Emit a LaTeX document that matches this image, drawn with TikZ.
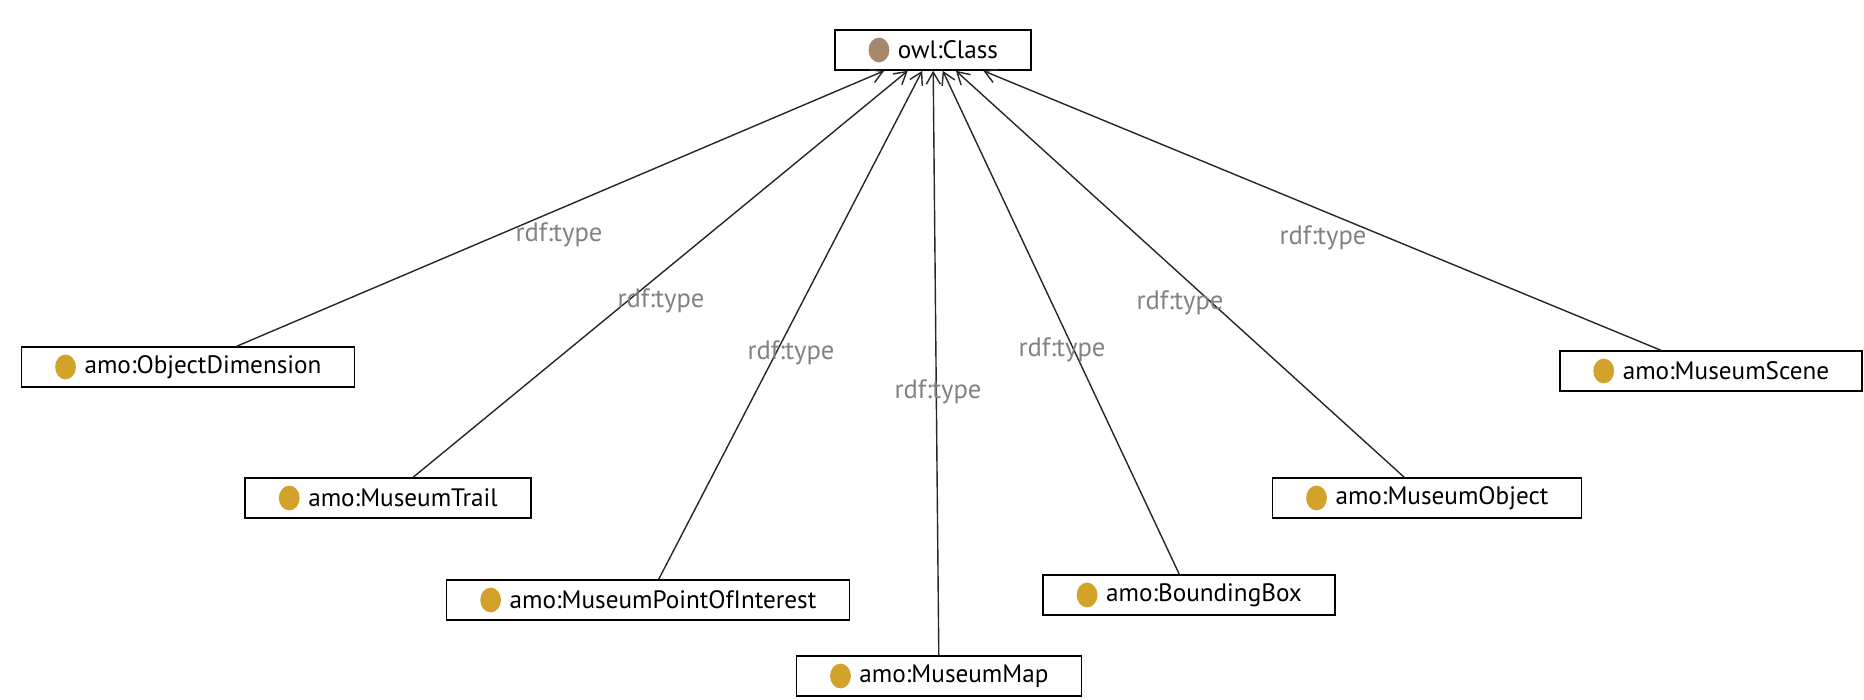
\documentclass[tikz,border=0pt]{standalone}
\usepackage{fontspec}
\setmainfont{PT Sans}
\usetikzlibrary{arrows.meta}

\definecolor{owlbrown}{RGB}{168,136,108}
\definecolor{amogold}{RGB}{210,162,42}
\definecolor{lblgray}{RGB}{130,130,130}

\tikzset{every picture/.style={line width=0.6pt}}
\tikzset{
  clsbox/.style={draw, line width=0.8pt, fill=white, minimum height=20pt,
    inner xsep=16.5pt, inner ysep=2pt, font=\fontsize{12.6}{15}\selectfont,
    execute at begin node={\hspace{15pt}},
    path picture={\fill[#1] ([xshift=22pt]path picture bounding box.west) ellipse (5.2pt and 6.2pt);}},
  clsbox/.default=amogold,
  typelink/.style={-{Straight Barb[length=6pt,width=7pt]}, line width=0.7pt, draw=black!85},
  typelbl/.style={text=lblgray, inner sep=0.75pt, font=\fontsize{13.3}{15}\selectfont}
}

\begin{document}
\begin{tikzpicture}[x=0.5pt,y=0.5pt,yscale=-1,xscale=1]
\useasboundingbox (0,0) rectangle (1864,700);

%Shape: Class boxes
\node[clsbox=owlbrown] (cls) at (933,50) {owl:Class};
\node[clsbox] (objdim) at (188,367) {amo:ObjectDimension};
\node[clsbox] (trail) at (388,498) {amo:MuseumTrail};
\node[clsbox] (poi) at (648,600) {amo:MuseumPointOfInterest};
\node[clsbox] (map) at (939,676) {amo:MuseumMap};
\node[clsbox] (bbox) at (1189,595) {amo:BoundingBox};
\node[clsbox] (object) at (1427,498) {amo:MuseumObject};
\node[clsbox] (scene) at (1711,371) {amo:MuseumScene};

%Straight Lines: rdf:type links
\draw[typelink] (objdim) -- (cls);
\draw[typelink] (trail) -- (cls);
\draw[typelink] (poi) -- (cls);
\draw[typelink] (map) -- (cls);
\draw[typelink] (bbox) -- (cls);
\draw[typelink] (object) -- (cls);
\draw[typelink] (scene) -- (cls);

% Text Node
\node[typelbl] (t1) at (559,235) {rdf:type};
\node[typelbl] (t2) at (661,301) {rdf:type};
\node[typelbl] (t3) at (791,353) {rdf:type};
\node[typelbl] (t4) at (938,392) {rdf:type};
\node[typelbl] (t5) at (1062,350) {rdf:type};
\node[typelbl] (t6) at (1180,303) {rdf:type};
\node[typelbl] (t7) at (1323,238) {rdf:type};

\end{tikzpicture}
\end{document}
